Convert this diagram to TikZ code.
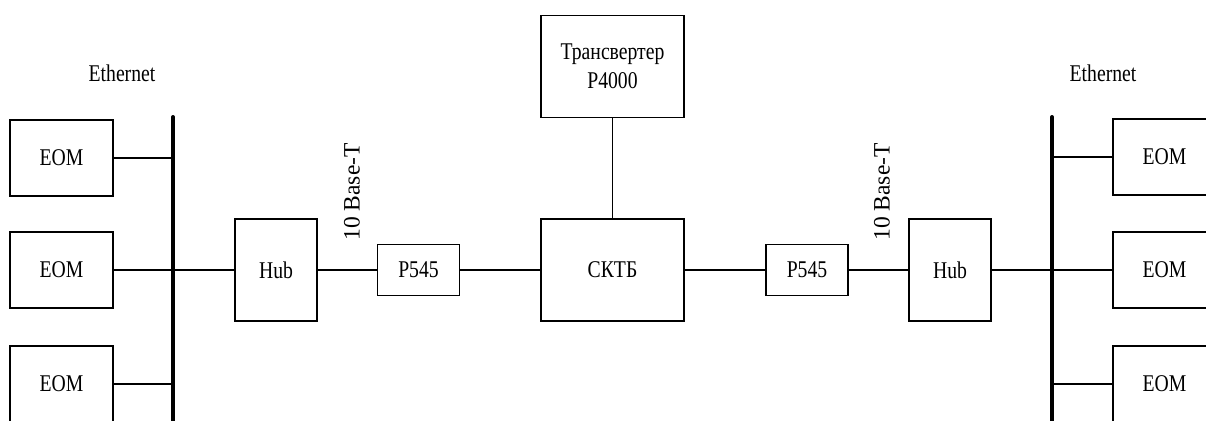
\documentclass[tikz,border=0pt]{standalone}
\usepackage{fontspec}
\setmainfont{Liberation Serif}
\newfontfamily\narrowserif[FakeStretch=0.82]{Liberation Serif}
\begin{document}
\begin{tikzpicture}[x=1pt,y=-1pt,line width=1.3pt,
  box/.style={draw,line width=1.3pt,inner sep=0pt,align=center,
    font=\narrowserif\fontsize{24}{29}\selectfont},
  eom/.style={box,minimum width=103pt,minimum height=76pt},
  hub/.style={box,minimum width=82pt,minimum height=102pt},
  pbox/.style={box,minimum width=82pt,minimum height=51pt},
  big/.style={box,minimum width=143pt,minimum height=102pt},
  lbl/.style={font=\narrowserif\fontsize{24}{29}\selectfont},
  rlbl/.style={font=\fontsize{23.5}{28}\selectfont,rotate=90},
  bus/.style={line width=4pt,line cap=round}]
\useasboundingbox (0,0) rectangle (1206,420);
\clip (0,0) rectangle (1206,420);
% left side
\node[eom] (eomL1) at (61.5,158) {EOM};
\node[eom] (eomL2) at (61.5,270) {EOM};
\node[eom] (eomL3) at (61.5,384) {EOM};
\coordinate (busLtop) at (173,117);
\coordinate (busLbot) at (173,430);
\node[lbl] (ethL) at (122,73) {Ethernet};
\node[hub] (hubL) at (276,270) {Hub};
\node[rlbl] (baseL) at (352,192) {10 Base-T};
\node[pbox] (pL) at (418.5,270) {P545};
% centre
\node[big] (sktb) at (612.5,270) {СКТБ};
\node[big] (trans) at (612.5,66.5) {Трансвертер\\P4000};
% right side
\node[pbox] (pR) at (807,270) {P545};
\node[rlbl] (baseR) at (882,192) {10 Base-T};
\node[hub] (hubR) at (950,270) {Hub};
\coordinate (busRtop) at (1052,117);
\coordinate (busRbot) at (1052,430);
\node[lbl] (ethR) at (1103,73) {Ethernet};
\node[eom] (eomR1) at (1164.5,157) {EOM};
\node[eom] (eomR2) at (1164.5,270) {EOM};
\node[eom] (eomR3) at (1164.5,384) {EOM};
% buses
\draw[bus] (busLtop) -- (busLbot);
\draw[bus] (busRtop) -- (busRbot);
% connectors
\draw (eomL1.east) -- (eomL1.east -| busLtop);
\draw (eomL2.east) -- (eomL2.east -| busLtop);
\draw (eomL3.east) -- (eomL3.east -| busLtop);
\draw (hubL.west -| busLtop) -- (hubL.west);
\draw (hubL.east) -- (pL.west);
\draw (pL.east) -- (sktb.west);
\draw (trans.south) -- (sktb.north);
\draw (sktb.east) -- (pR.west);
\draw (pR.east) -- (hubR.west);
\draw (hubR.east) -- (hubR.east -| busRtop);
\draw (eomR1.west -| busRtop) -- (eomR1.west);
\draw (eomR2.west -| busRtop) -- (eomR2.west);
\draw (eomR3.west -| busRtop) -- (eomR3.west);
\end{tikzpicture}
\end{document}
